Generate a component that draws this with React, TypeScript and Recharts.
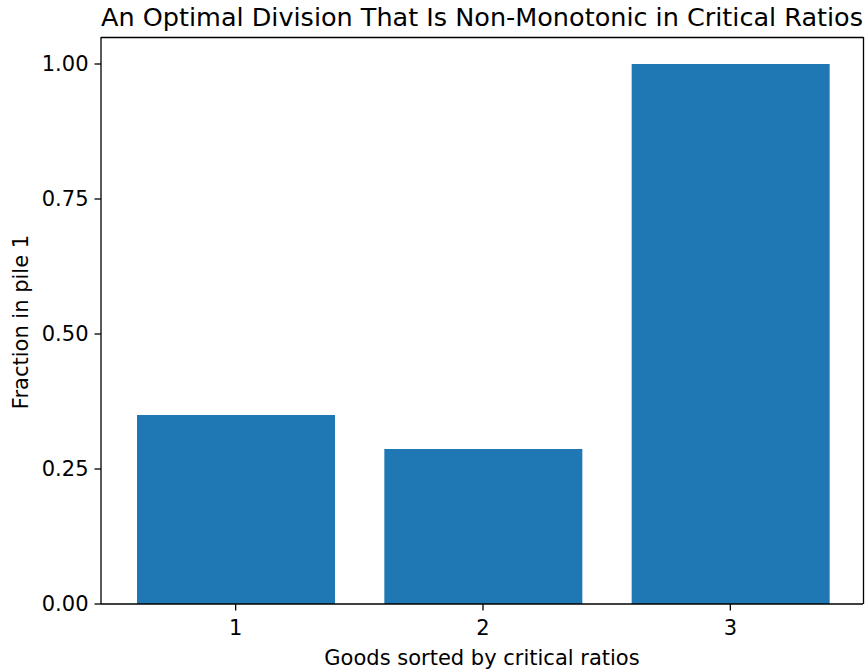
import React from "react";
import { BarChart, Bar, XAxis, YAxis } from "recharts";

const categories = ["1", "2", "3"];
const fractions = [0.35, 0.287, 1.0];
const yTicks = [0, 0.25, 0.5, 0.75, 1.0];

const data = categories.map((c, i) => ({ good: c, fraction: fractions[i] }));

const FONT = "'DejaVu Sans', sans-serif";
const TICK_FONT = 21;

export default function App() {
  return (
    <div style={{ position: "absolute", left: 0, top: 0, width: 867, height: 670, fontFamily: FONT, background: "#fff" }}>
      <BarChart
        width={867}
        height={670}
        data={data}
        margin={{ top: 37, right: 4, bottom: 0, left: 0 }}
        barSize={198}
      >
        <XAxis
          dataKey="good"
          height={66}
          padding={{ left: 11, right: 9 }}
          tick={{ fill: "#000", fontSize: TICK_FONT, fontFamily: FONT }}
          tickLine={{ stroke: "#000", strokeWidth: 1.3 }}
          tickSize={6.5}
          tickMargin={10}
          axisLine={{ stroke: "#000", strokeWidth: 1.3 }}
        />
        <YAxis
          width={101}
          domain={[0, 1.05]}
          ticks={yTicks}
          tickFormatter={(v: number) => v.toFixed(2)}
          tick={{ fill: "#000", fontSize: TICK_FONT, fontFamily: FONT }}
          tickLine={{ stroke: "#000", strokeWidth: 1.3 }}
          tickSize={6.5}
          tickMargin={6}
          axisLine={{ stroke: "#000", strokeWidth: 1.3 }}
        />
        <Bar dataKey="fraction" fill="#1f77b4" isAnimationActive={false} />
      </BarChart>
      <svg style={{ position: "absolute", left: 0, top: 0, pointerEvents: "none" }} width={867} height={670}>
        <line x1={101} y1={37.5} x2={863.5} y2={37.5} stroke="#000" strokeWidth={1.3} />
        <line x1={863.5} y1={37} x2={863.5} y2={604} stroke="#000" strokeWidth={1.3} />
        <text x={482} y={26} textAnchor="middle" fontSize={25.5} fontFamily={FONT} fill="#000">
          An Optimal Division That Is Non-Monotonic in Critical Ratios
        </text>
        <text x={482} y={665} textAnchor="middle" fontSize={TICK_FONT} fontFamily={FONT} fill="#000">
          Goods sorted by critical ratios
        </text>
        <text
          x={0}
          y={0}
          transform="translate(28, 322) rotate(-90)"
          textAnchor="middle"
          fontSize={TICK_FONT}
          fontFamily={FONT}
          fill="#000"
        >
          Fraction in pile 1
        </text>
      </svg>
    </div>
  );
}
